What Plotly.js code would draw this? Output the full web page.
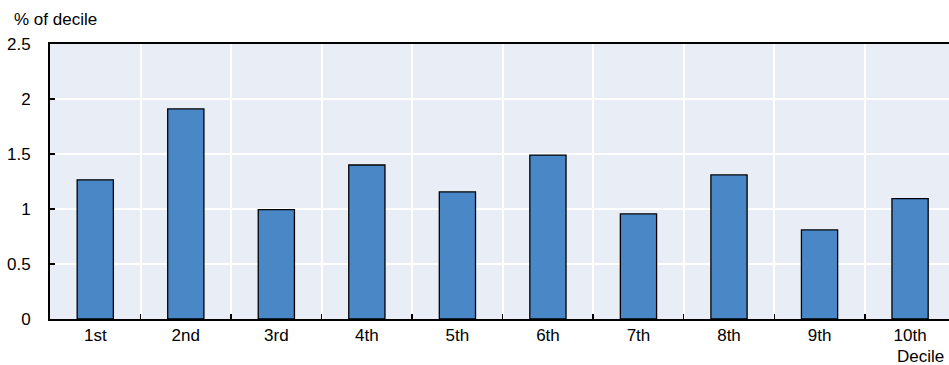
<!DOCTYPE html>
<html>
<head>
<meta charset="utf-8">
<script src="https://cdn.plot.ly/plotly-3.0.1.min.js"></script>
<style>html,body{margin:0;padding:0;background:#fff;}#chart{width:949px;height:365px;}</style>
</head>
<body>
<div id="chart"></div>
<script>
const deciles = ["1st", "2nd", "3rd", "4th", "5th", "6th", "7th", "8th", "9th", "10th"];
const shareOfDecile = [1.265, 1.91, 0.995, 1.40, 1.155, 1.49, 0.955, 1.31, 0.81, 1.095];
const yTicks = [0, 0.5, 1, 1.5, 2, 2.5];
const yTickText = ["0", "0.5", "1", "1.5", "2", "2.5"];

const FONT = "'Liberation Sans Narrow', 'Arial Narrow', 'Liberation Sans', Arial, sans-serif";
const FS = 17;

const trace = {
  type: "bar",
  x: deciles,
  y: shareOfDecile,
  width: 0.4,
  marker: { color: "#4a87c6", line: { color: "#000000", width: 1.3 } },
  hoverinfo: "x+y"
};

const layout = {
  width: 949, height: 365,
  margin: { l: 50, r: 0, t: 44, b: 46, pad: 0 },
  paper_bgcolor: "#ffffff",
  plot_bgcolor: "#e9edf6",
  font: { family: FONT, size: FS, color: "#000000" },
  showlegend: false,
  xaxis: {
    type: "category",
    range: [-0.5, 9.43],
    tickson: "boundaries",
    ticks: "inside", ticklen: 5, tickwidth: 1.5, tickcolor: "#000",
    showgrid: true, gridcolor: "#ffffff", gridwidth: 2,
    showline: true, linecolor: "#000", linewidth: 2, mirror: true,
    tickfont: { family: FONT, size: FS },
    zeroline: false
  },
  yaxis: {
    range: [0, 2.5],
    tickvals: yTicks, ticktext: yTickText,
    ticks: "inside", ticklen: 5, tickwidth: 1.5, tickcolor: "#000",
    ticklabelstandoff: 14,
    showgrid: true, gridcolor: "#ffffff", gridwidth: 2,
    showline: true, linecolor: "#000", linewidth: 2,
    zeroline: false,
    tickfont: { family: FONT, size: FS }
  },
  annotations: [
    { text: "% of decile", xref: "paper", yref: "paper", x: -0.042, y: 1.0, yshift: 25,
      xanchor: "left", yanchor: "middle", showarrow: false, font: { family: FONT, size: FS } },
    { text: "Decile", xref: "paper", yref: "paper", x: 1.0, y: 0, yshift: -37, xshift: -3,
      xanchor: "right", yanchor: "middle", showarrow: false, font: { family: FONT, size: FS } }
  ]
};

Plotly.newPlot("chart", [trace], layout, { displayModeBar: false, staticPlot: true });
</script>
</body>
</html>
